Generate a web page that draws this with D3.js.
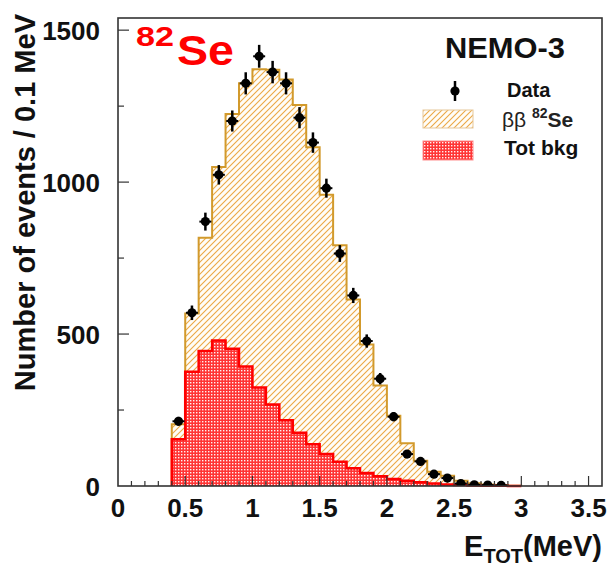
<!DOCTYPE html>
<html>
<head>
<meta charset="utf-8">
<script src="https://cdn.jsdelivr.net/npm/d3@7/dist/d3.min.js"></script>
<style>
  html, body { margin: 0; padding: 0; background: #fff; }
  svg { display: block; }
  text { font-family: "Liberation Sans", Arial, Helvetica, sans-serif; }
</style>
</head>
<body>
<svg id="chart" width="614" height="568"></svg>
<script>
// Energy-sum spectrum of the two electrons, bins of 0.1 MeV starting at 0.4 MeV
const binStart = 0.4;
const binWidth = 0.1;

// Background (all sources summed), events per bin
const bkgCounts = [154, 376, 444, 479, 452, 393, 324, 268, 216, 175, 137, 105, 80, 58, 43, 32, 23, 17, 12, 8, 5, 3, 2, 1, 1, 0];

// 2nu double beta decay of 82Se, events per bin (stacked on top of the background)
const bbCounts = [49, 192, 373, 571, 772, 932, 1047, 1102, 1122, 1079, 978, 853, 712, 556, 423, 299, 208, 124, 71, 39, 29, 14, 7, 4, 2, 1];

// Measured events per bin
const dataCounts = [213, 570, 870, 1024, 1201, 1325, 1414, 1362, 1325, 1212, 1130, 980, 765, 627, 477, 353, 228, 105, 81, 39, 26, 8, 4, 3, 2, 0];

// Axis ticks
const xMajorTicks = [0, 0.5, 1, 1.5, 2, 2.5, 3, 3.5];
const xTickLabels = ["0", "0.5", "1", "1.5", "2", "2.5", "3", "3.5"];
const yMajorTicks = [0, 500, 1000, 1500];
const yTickLabels = ["0", "500", "1000", "1500"];

const svg = d3.select("#chart");
const frame = { left: 118, right: 602, top: 18, bottom: 486 };

const x = d3.scaleLinear().domain([0, 3.6]).range([frame.left, frame.right]);
const y = d3.scaleLinear().domain([0, 1540]).range([frame.bottom, frame.top]);

// Fill patterns
const defs = svg.append("defs");
const hatch = defs.append("pattern")
  .attr("id", "hatch").attr("patternUnits", "userSpaceOnUse")
  .attr("width", 6).attr("height", 6);
hatch.append("rect").attr("width", 6).attr("height", 6).attr("fill", "#fffdf8");
hatch.append("path")
  .attr("d", "M0,6 L6,0 M-1.5,1.5 L1.5,-1.5 M4.5,7.5 L7.5,4.5")
  .attr("stroke", "#eba845").attr("stroke-width", 1.1);

const dots = defs.append("pattern")
  .attr("id", "dots").attr("patternUnits", "userSpaceOnUse")
  .attr("width", 3).attr("height", 3);
dots.append("rect").attr("width", 3).attr("height", 3).attr("fill", "#ff3535");
dots.append("rect").attr("x", 1).attr("y", 1).attr("width", 1.4).attr("height", 1.4).attr("fill", "#fff2f2");

defs.append("clipPath").attr("id", "plotClip")
  .append("rect")
  .attr("x", frame.left).attr("y", frame.top)
  .attr("width", frame.right - frame.left).attr("height", frame.bottom - frame.top);

// Histogram rows
const bins = bkgCounts.map((b, i) => ({
  lo: binStart + i * binWidth,
  bkg: b,
  total: b + bbCounts[i],
  data: dataCounts[i]
}));
const binEnd = binStart + bins.length * binWidth;

function stepPoints(key) {
  const pts = [{ e: binStart, v: 0 }];
  bins.forEach(d => pts.push({ e: d.lo, v: d[key] }));
  pts.push({ e: binEnd, v: bins[bins.length - 1][key] });
  pts.push({ e: binEnd, v: 0 });
  return pts;
}

const area = d3.area().curve(d3.curveStepAfter)
  .x(d => x(d.e)).y0(y(0)).y1(d => y(d.v));
const line = d3.line().curve(d3.curveStepAfter)
  .x(d => x(d.e)).y(d => y(d.v));

const plot = svg.append("g");
// 82Se signal stacked on background: hatched total
plot.append("path").datum(stepPoints("total"))
  .attr("d", area).attr("fill", "url(#hatch)");
plot.append("path").datum(stepPoints("total"))
  .attr("d", line).attr("fill", "none")
  .attr("stroke", "#d29a2c").attr("stroke-width", 2);
// Background
plot.append("path").datum(stepPoints("bkg"))
  .attr("d", area).attr("fill", "url(#dots)");
plot.append("path").datum(stepPoints("bkg"))
  .attr("d", line).attr("fill", "none")
  .attr("stroke", "#ff0000").attr("stroke-width", 2.5);

// Data points with statistical error bars
const pts = svg.append("g").attr("clip-path", "url(#plotClip)");
bins.filter(d => d.data > 0).forEach(d => {
  const cx = x(d.lo + binWidth / 2);
  const err = Math.sqrt(d.data);
  pts.append("line")
    .attr("x1", cx).attr("x2", cx)
    .attr("y1", y(d.data + err)).attr("y2", y(Math.max(0, d.data - err)))
    .attr("stroke", "#000").attr("stroke-width", 2.5);
  pts.append("line")
    .attr("x1", cx - 6).attr("x2", cx + 6)
    .attr("y1", y(d.data)).attr("y2", y(d.data))
    .attr("stroke", "#000").attr("stroke-width", 2);
  pts.append("circle")
    .attr("cx", cx).attr("cy", y(d.data)).attr("r", 4.6)
    .attr("fill", "#000");
});

// Frame and axes
const axisColor = "#333";
svg.append("rect")
  .attr("x", frame.left).attr("y", frame.top)
  .attr("width", frame.right - frame.left).attr("height", frame.bottom - frame.top)
  .attr("fill", "none").attr("stroke", axisColor).attr("stroke-width", 1.6);

const xMinor = d3.range(0, 36).map(i => i * 0.1).filter(v => v > 0);
svg.append("g").selectAll("line").data(xMinor).join("line")
  .attr("x1", d => x(d)).attr("x2", d => x(d))
  .attr("y1", frame.bottom)
  .attr("y2", d => frame.bottom - (Math.abs(d * 2 - Math.round(d * 2)) < 1e-6 ? 10 : 5))
  .attr("stroke", axisColor).attr("stroke-width", 1.2);

const yMinor = d3.range(250, 1540, 250);
svg.append("g").selectAll("line").data(yMinor).join("line")
  .attr("x1", frame.left)
  .attr("x2", d => frame.left + (d % 500 === 0 ? 11 : 6))
  .attr("y1", d => y(d)).attr("y2", d => y(d))
  .attr("stroke", axisColor).attr("stroke-width", 1.2);

svg.append("g").selectAll("text").data(xMajorTicks).join("text")
  .attr("x", d => x(d)).attr("y", 517)
  .attr("text-anchor", "middle")
  .attr("font-size", 26).attr("font-weight", "bold").attr("fill", "#111")
  .text((d, i) => xTickLabels[i]);

svg.append("g").selectAll("text").data(yMajorTicks).join("text")
  .attr("x", 100).attr("y", d => y(d) + 9.5)
  .attr("text-anchor", "end")
  .attr("font-size", 26).attr("font-weight", "bold").attr("fill", "#111")
  .text((d, i) => yTickLabels[i]);

// Axis titles
svg.append("text")
  .attr("transform", "translate(35,14) rotate(-90)")
  .attr("text-anchor", "end")
  .attr("font-size", 29).attr("font-weight", "bold").attr("fill", "#111")
  .text("Number of events / 0.1 MeV");

const xt = svg.append("text")
  .attr("x", 602).attr("y", 556)
  .attr("text-anchor", "end")
  .attr("font-weight", "bold").attr("fill", "#111").attr("font-size", 29);
xt.append("tspan").text("E");
xt.append("tspan").attr("font-size", 20).attr("dy", 7).text("TOT");
xt.append("tspan").attr("dy", -7).text("(MeV)");

// Isotope label
svg.append("text").attr("x", 136).attr("y", 46)
  .attr("font-size", 27).attr("font-weight", "bold").attr("fill", "#f00")
  .attr("textLength", 38).attr("lengthAdjust", "spacingAndGlyphs")
  .text("82");
svg.append("text").attr("x", 177).attr("y", 65)
  .attr("font-size", 42).attr("font-weight", "bold").attr("fill", "#f00")
  .attr("textLength", 57).attr("lengthAdjust", "spacingAndGlyphs")
  .text("Se");

// Legend
svg.append("text").attr("x", 445).attr("y", 58)
  .attr("font-size", 30).attr("font-weight", "bold").attr("fill", "#111")
  .attr("textLength", 120).attr("lengthAdjust", "spacingAndGlyphs")
  .text("NEMO-3");

const lg = svg.append("g");
lg.append("line").attr("x1", 455).attr("x2", 455).attr("y1", 81).attr("y2", 101)
  .attr("stroke", "#000").attr("stroke-width", 2.5);
lg.append("circle").attr("cx", 455).attr("cy", 91).attr("r", 4.6).attr("fill", "#000");
lg.append("text").attr("x", 507).attr("y", 97)
  .attr("font-size", 20).attr("font-weight", "bold").attr("fill", "#111")
  .text("Data");

lg.append("rect").attr("x", 423).attr("y", 110).attr("width", 50).attr("height", 18)
  .attr("fill", "url(#hatch)").attr("stroke", "#e6c79a").attr("stroke-width", 1);
const bbLabel = lg.append("text").attr("x", 502).attr("y", 127)
  .attr("font-size", 21).attr("fill", "#222");
bbLabel.append("tspan").text("ββ ");
bbLabel.append("tspan").attr("font-weight", "bold").attr("font-size", 14).attr("dy", -9).text("82");
bbLabel.append("tspan").attr("font-weight", "bold").attr("dy", 9).text("Se");

lg.append("rect").attr("x", 423).attr("y", 141).attr("width", 50).attr("height", 19)
  .attr("fill", "url(#dots)").attr("stroke", "#ff9090").attr("stroke-width", 1);
lg.append("text").attr("x", 504).attr("y", 155)
  .attr("font-size", 21).attr("font-weight", "bold").attr("fill", "#111")
  .text("Tot bkg");
</script>
</body>
</html>
